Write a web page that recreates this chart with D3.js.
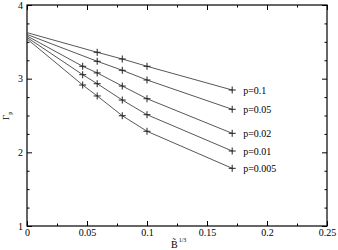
<!DOCTYPE html>
<html lang="en">
<head>
<meta charset="UTF-8">
<title>Gamma_p vs B^(1/3)</title>
<script src="https://cdn.jsdelivr.net/npm/d3@7.9.0/dist/d3.min.js"></script>
<style>
    body { margin: 0; background: #fff; }
    svg { display: block; }
    .axis text { font-family: "Liberation Serif", "Times New Roman", serif; font-size: 10px; fill: #000; }
    .axis line { stroke: #000; stroke-width: 1px; }
    .axis path { display: none; }
    .series { fill: none; stroke: #444; stroke-width: 0.9px; }
    .mark { stroke: #222; stroke-width: 1px; }
    .label { font-family: "Liberation Serif", "Times New Roman", serif; font-size: 10px; fill: #000; }
</style>
</head>
<body>
<svg id="chart" width="338" height="250"></svg>
<script>
// --- data ---
const seriesNames = ["p=0.1", "p=0.05", "p=0.02", "p=0.01", "p=0.005"];
const xFull = [0, 0.0464, 0.0585, 0.0794, 0.1, 0.171];
const xShort = [0, 0.0585, 0.0794, 0.1, 0.171];
const p01 = [3.625, 3.358, 3.267, 3.168, 2.846];
const p005 = [3.600, 3.236, 3.114, 2.982, 2.584];
const p002 = [3.580, 3.168, 3.078, 2.900, 2.728, 2.258];
const p001 = [3.560, 3.054, 2.932, 2.710, 2.511, 2.018];
const p0005 = [3.540, 2.914, 2.765, 2.497, 2.286, 1.783];

const xTicks = [0, 0.05, 0.1, 0.15, 0.2, 0.25];
const xTickLabels = ["0", "0.05", "0.1", "0.15", "0.2", "0.25"];
const xMinor = [0.025, 0.075, 0.125, 0.175, 0.225];
const yTicks = [1, 2, 3, 4];
const yTickLabels = ["1", "2", "3", "4"];
const yMinor = [1.25, 1.5, 1.75, 2.25, 2.5, 2.75, 3.25, 3.5, 3.75];

const series = [
    { name: seriesNames[0], xs: xShort, ys: p01 },
    { name: seriesNames[1], xs: xShort, ys: p005 },
    { name: seriesNames[2], xs: xFull, ys: p002 },
    { name: seriesNames[3], xs: xFull, ys: p001 },
    { name: seriesNames[4], xs: xFull, ys: p0005 }
].map(s => ({ name: s.name, points: s.xs.map((x, i) => ({ x: x, y: s.ys[i] })) }));

// --- layout ---
const margin = { top: 5, right: 11, bottom: 24, left: 27 };
const width = 338 - margin.left - margin.right;
const height = 250 - margin.top - margin.bottom;

const svg = d3.select("#chart");
const g = svg.append("g").attr("transform", `translate(${margin.left},${margin.top})`);

const x = d3.scaleLinear().domain([0, 0.25]).range([0, width]);
const y = d3.scaleLinear().domain([1, 4]).range([height, 0]);

// ticks point inward, mirrored on top and right
g.append("g").attr("class", "axis")
    .attr("transform", `translate(0,${height})`)
    .call(d3.axisBottom(x).tickValues(xTicks).tickSizeInner(-5).tickSizeOuter(0).tickPadding(3)
        .tickFormat((d, i) => xTickLabels[i]));
g.append("g").attr("class", "axis")
    .attr("transform", `translate(0,${height})`)
    .call(d3.axisBottom(x).tickValues(xMinor).tickSizeInner(-2.5).tickSizeOuter(0).tickFormat(""));
g.append("g").attr("class", "axis")
    .call(d3.axisTop(x).tickValues(xTicks).tickSizeInner(-5).tickSizeOuter(0).tickFormat(""));
g.append("g").attr("class", "axis")
    .call(d3.axisTop(x).tickValues(xMinor).tickSizeInner(-2.5).tickSizeOuter(0).tickFormat(""));

g.append("g").attr("class", "axis")
    .call(d3.axisLeft(y).tickValues(yTicks).tickSizeInner(-5).tickSizeOuter(0).tickPadding(4)
        .tickFormat((d, i) => yTickLabels[i]));
g.append("g").attr("class", "axis")
    .call(d3.axisLeft(y).tickValues(yMinor).tickSizeInner(-2.5).tickSizeOuter(0).tickFormat(""));
g.append("g").attr("class", "axis")
    .attr("transform", `translate(${width},0)`)
    .call(d3.axisRight(y).tickValues(yTicks).tickSizeInner(-5).tickSizeOuter(0).tickFormat(""));
g.append("g").attr("class", "axis")
    .attr("transform", `translate(${width},0)`)
    .call(d3.axisRight(y).tickValues(yMinor).tickSizeInner(-2.5).tickSizeOuter(0).tickFormat(""));

// frame
g.append("rect")
    .attr("width", width).attr("height", height)
    .attr("fill", "none").attr("stroke", "#000").attr("stroke-width", 1.2);

// lines
const line = d3.line().x(d => x(d.x)).y(d => y(d.y));
g.selectAll(".series")
    .data(series)
    .enter().append("path")
    .attr("class", "series")
    .attr("d", d => line(d.points));

// plus markers (none drawn on the x=0 start point)
const markSize = 3.5;
g.selectAll(".marks")
    .data(series)
    .enter().append("g")
    .selectAll("path")
    .data(d => d.points.filter(p => p.x > 0))
    .enter().append("path")
    .attr("class", "mark")
    .attr("d", d => {
        const cx = x(d.x), cy = y(d.y);
        return `M${cx - markSize},${cy}H${cx + markSize}M${cx},${cy - markSize}V${cy + markSize}`;
    });

// series labels at the end of each line
g.selectAll(".label")
    .data(series)
    .enter().append("text")
    .attr("class", "label")
    .attr("x", d => x(d.points[d.points.length - 1].x) + 11)
    .attr("y", d => y(d.points[d.points.length - 1].y))
    .attr("dy", "0.35em")
    .text(d => d.name);

// x axis title: B with tilde and ^{1/3}
const xt = svg.append("text")
    .attr("x", 171).attr("y", 248)
    .attr("font-family", "Liberation Serif, serif").attr("font-size", 10);
xt.append("tspan").text("B\u0303");
xt.append("tspan")
    .attr("dx", 1).attr("dy", -6)
    .attr("font-size", 6)
    .text("1/3");

// y axis title: Gamma_p rotated
const yt = svg.append("text")
    .attr("transform", "translate(9,120) rotate(-90)")
    .attr("font-family", "Liberation Serif, serif").attr("font-size", 9);
yt.append("tspan").text("Γ");
yt.append("tspan")
    .attr("dy", 3)
    .attr("font-size", 6)
    .text("p");
</script>
</body>
</html>
